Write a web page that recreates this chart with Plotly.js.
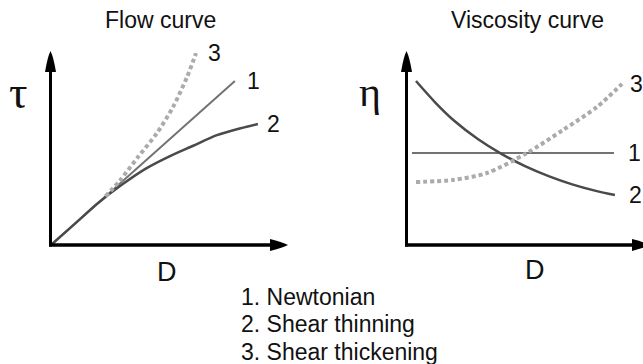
<!DOCTYPE html>
<html>
<head>
<meta charset="utf-8">
<script src="https://cdn.plot.ly/plotly-3.0.1.min.js"></script>
<style>
  html, body { margin: 0; padding: 0; background: #fff; }
  #chart { width: 643px; height: 364px; }
</style>
</head>
<body>
<div id="chart"></div>
<script>
// ---- Flow curve: shear stress tau vs shear rate D ----
const flowNewtonD = [0, 7.76];
const flowNewtonTau = [0, 8.54];
const flowThinD = [0, 1, 2, 3, 4, 5, 6, 7, 8, 8.73];
const flowThinTau = [0, 1.1, 2.2, 3.15, 3.98, 4.62, 5.17, 5.72, 6.08, 6.3];
const flowThickD = [2.3, 2.9, 3.67, 4.47, 5.15, 5.74, 6.12];
const flowThickTau = [2.53, 3.35, 4.58, 5.83, 7.19, 8.75, 10.0];

// ---- Viscosity curve: eta vs shear rate D ----
const viscNewtonD = [0.21, 8.77];
const viscNewtonEta = [4.79, 4.79];
const viscThinD = [0.38, 1.2, 2.0, 3.0, 4.0, 5.0, 6.0, 7.0, 8.0, 8.81];
const viscThinEta = [8.54, 7.42, 6.47, 5.52, 4.75, 4.11, 3.59, 3.16, 2.82, 2.6];
const viscThickD = [0.38, 1.95, 3.39, 5.08, 6.61, 8.05, 9.11];
const viscThickEta = [3.28, 3.39, 3.75, 4.79, 5.99, 7.19, 8.39];

// curve numbers and legend text
const curveIds = ["1", "2", "3"];
const legendLines = ["1. Newtonian", "2. Shear thinning", "3. Shear thickening"];
const panelTitles = ["Flow curve", "Viscosity curve"];
const yLabels = ["\u03C4", "\u03B7"];
const xLabel = "D";

// ---- layout geometry (pixels) ----
const W = 643, H = 364;
const fx = v => v / W;          // pixel x -> paper
const fy = v => 1 - v / H;      // pixel y -> paper
const left = { x0: 51, x1: 288, y0: 245, y1: 53 };
const right = { x0: 407, x1: 643, y0: 245, y1: 53 };

const SANS = "Liberation Sans, Arial, Helvetica, sans-serif";
const SERIF = "Liberation Serif, Times New Roman, serif";
const colNewton = "#727272";
const colThin = "#4a4a4a";
const colThick = "#ababab";

function curve(x, y, xa, ya, color, width, dash) {
  return {
    type: "scatter", mode: "lines", x: x, y: y, xaxis: xa, yaxis: ya,
    line: { color: color, width: width, dash: dash || "solid", shape: "spline", smoothing: 0.8 },
    cliponaxis: false, hoverinfo: "skip", showlegend: false
  };
}

const traces = [
  curve(flowNewtonD, flowNewtonTau, "x", "y", colNewton, 2),
  curve(flowThinD, flowThinTau, "x", "y", colThin, 2.5),
  curve(flowThickD, flowThickTau, "x", "y", colThick, 4, "4px,3px"),
  curve(viscNewtonD, viscNewtonEta, "x2", "y2", colNewton, 2),
  curve(viscThinD, viscThinEta, "x2", "y2", colThin, 2.5),
  curve(viscThickD, viscThickEta, "x2", "y2", colThick, 4, "4px,3px")
];

// axis lines with arrow heads, drawn in paper space
function axisShapes(p, tipX) {
  const s = [];
  const ax = p.x0 - 0.5;
  s.push({ type: "line", xref: "paper", yref: "paper", x0: fx(ax), x1: fx(ax), y0: fy(p.y0 + 1.5), y1: fy(p.y1 + 14),
           line: { color: "#000", width: 3 } });
  s.push({ type: "line", xref: "paper", yref: "paper", x0: fx(p.x0 - 2), x1: fx(tipX - 12), y0: fy(p.y0), y1: fy(p.y0),
           line: { color: "#000", width: 3.5 } });
  // vertical head
  const t = p.y1 - 2;
  s.push({ type: "path", xref: "paper", yref: "paper", fillcolor: "#000", line: { width: 0 },
           path: `M${fx(ax)},${fy(t)} Q${fx(ax + 3)},${fy(t + 6)} ${fx(ax + 5.5)},${fy(t + 21)} L${fx(ax - 5.5)},${fy(t + 21)} Q${fx(ax - 3)},${fy(t + 6)} ${fx(ax)},${fy(t)} Z` });
  // horizontal head
  const yy = p.y0;
  s.push({ type: "path", xref: "paper", yref: "paper", fillcolor: "#000", line: { width: 0 },
           path: `M${fx(tipX)},${fy(yy)} Q${fx(tipX - 6)},${fy(yy - 3)} ${fx(tipX - 18)},${fy(yy - 6)} L${fx(tipX - 18)},${fy(yy + 6)} Q${fx(tipX - 6)},${fy(yy + 3)} ${fx(tipX)},${fy(yy)} Z` });
  return s;
}

const shapes = axisShapes(left, 288).concat(axisShapes(right, 650));

function txt(text, x, y, size, family, extra) {
  return Object.assign({ text: text, xref: "paper", yref: "paper", x: fx(x), y: fy(y),
    xanchor: "center", yanchor: "middle", showarrow: false,
    font: { family: family || SANS, size: size, color: "#111" } }, extra || {});
}

// curve number beside the end of a curve
function endLabel(id, xs, ys, xa, ya, shift) {
  return { text: id, xref: xa, yref: ya, x: xs[xs.length - 1], y: ys[ys.length - 1],
    xanchor: "left", yanchor: "middle", xshift: shift, showarrow: false, borderpad: 0,
    font: { family: SANS, size: 23, color: "#111" } };
}

const annotations = [
  txt(panelTitles[0], 160, 19.5, 23),
  txt(panelTitles[1], 527.5, 19.5, 23),
  txt(yLabels[0], 18, 92, 46, SERIF),
  txt(yLabels[1], 370, 92, 42, SERIF),
  txt(xLabel, 166.5, 272, 27),
  txt(xLabel, 535, 270, 27),
  endLabel(curveIds[2], flowThickD, flowThickTau, "x", "y", 11),
  endLabel(curveIds[0], flowNewtonD, flowNewtonTau, "x", "y", 11),
  endLabel(curveIds[1], flowThinD, flowThinTau, "x", "y", 8),
  endLabel(curveIds[2], viscThickD, viscThickEta, "x2", "y2", 7),
  endLabel(curveIds[0], viscNewtonD, viscNewtonEta, "x2", "y2", 13),
  endLabel(curveIds[1], viscThinD, viscThinEta, "x2", "y2", 13)
];
legendLines.forEach((t, i) => {
  annotations.push(txt(t, 239, 296.5 + i * 27.5, 23, SANS, { xanchor: "left" }));
});

function hiddenAxis(p, horiz) {
  return {
    domain: horiz ? [fx(p.x0), fx(p.x1)] : [fy(p.y0), fy(p.y1)],
    range: [0, 10], visible: false, fixedrange: true
  };
}

const layout = {
  width: W, height: H,
  margin: { l: 0, r: 0, t: 0, b: 0 },
  paper_bgcolor: "#fff", plot_bgcolor: "rgba(0,0,0,0)",
  showlegend: false,
  xaxis: Object.assign(hiddenAxis(left, true), { anchor: "y" }),
  yaxis: Object.assign(hiddenAxis(left, false), { anchor: "x" }),
  xaxis2: Object.assign(hiddenAxis(right, true), { anchor: "y2" }),
  yaxis2: Object.assign(hiddenAxis(right, false), { anchor: "x2" }),
  shapes: shapes,
  annotations: annotations
};

Plotly.newPlot("chart", traces, layout, { staticPlot: true, displayModeBar: false });
</script>
</body>
</html>
